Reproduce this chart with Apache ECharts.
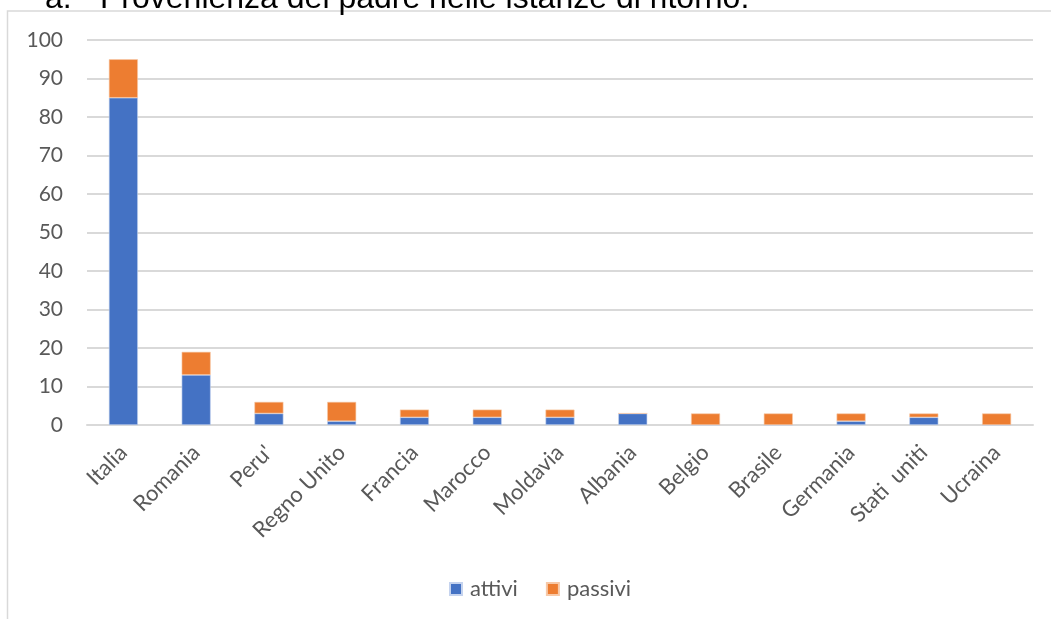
<!DOCTYPE html>
<html>
<head>
<meta charset="utf-8">
<script src="https://cdn.jsdelivr.net/npm/echarts@6/dist/echarts.min.js"></script>
<style>
html,body{margin:0;padding:0;background:#fff;}
#c{width:1051px;height:619px;}
</style>
</head>
<body>
<div id="c"></div>
<script>
const categories = ["Italia","Romania","Peru'","Regno Unito","Francia","Marocco","Moldavia","Albania","Belgio","Brasile","Germania","Stati  uniti","Ucraina"];
const attivi  = [85, 13, 3, 1, 2, 2, 2, 3, 0, 0, 1, 2, 0];
const passivi = [10, 6, 3, 5, 2, 2, 2, 0, 3, 3, 2, 1, 3];
const yTicks = [0,10,20,30,40,50,60,70,80,90,100];
const seriesNames = ["attivi","passivi"];
const titleNum = "a.";
const titleText = "Provenienza del padre nelle istanze di ritorno.";

const chart = echarts.init(document.getElementById('c'), null, {renderer:'canvas'});
const labelFont = 'Lato, "Open Sans", sans-serif';
chart.setOption({
  animation:false,
  backgroundColor:'#ffffff',
  graphic:[
    {type:'rect', shape:{x:7.5,y:11,width:1100,height:700}, style:{fill:'none',stroke:'#d9d9d9',lineWidth:1.5}, z:0},
    {type:'text', style:{text:titleNum, x:45, y:15, verticalAlign:'bottom', font:'32px "Liberation Sans", Arial, sans-serif', fill:'#000'}, z:10},
    {type:'text', style:{text:titleText, x:100, y:15, verticalAlign:'bottom', font:'32px "Liberation Sans", Arial, sans-serif', fill:'#000'}, z:10}
  ],
  grid:{left:87, right:18, top:40, bottom:194, containLabel:false},
  legend:{
    data:seriesNames, bottom:14, left:444, itemWidth:12, itemHeight:12, itemGap:28, icon:'rect',
    textStyle:{color:'#595959', fontSize:22, fontFamily:labelFont, padding:[0,0,0,3]}
  },
  xAxis:{
    type:'category', data:categories,
    axisLine:{lineStyle:{color:'#d9d9d9', width:2}},
    axisTick:{show:false},
    axisLabel:{rotate:45, interval:0, color:'#595959', fontSize:22, fontFamily:labelFont, margin:24}
  },
  yAxis:{
    type:'value', min:0, max:100, interval:10,
    axisLine:{show:false}, axisTick:{show:false},
    splitLine:{lineStyle:{color:'#d9d9d9', width:2}},
    axisLabel:{color:'#595959', fontSize:21, fontFamily:labelFont, margin:24}
  },
  series:[
    {name:seriesNames[0], type:'bar', stack:'s', data:attivi, barWidth:29, itemStyle:{color:'#4472c4', borderColor:'#c5d3ee', borderWidth:0.6}},
    {name:seriesNames[1], type:'bar', stack:'s', data:passivi, barWidth:29, itemStyle:{color:'#ed7d31', borderColor:'#f7c9a8', borderWidth:0.6}}
  ]
});
</script>
</body>
</html>
